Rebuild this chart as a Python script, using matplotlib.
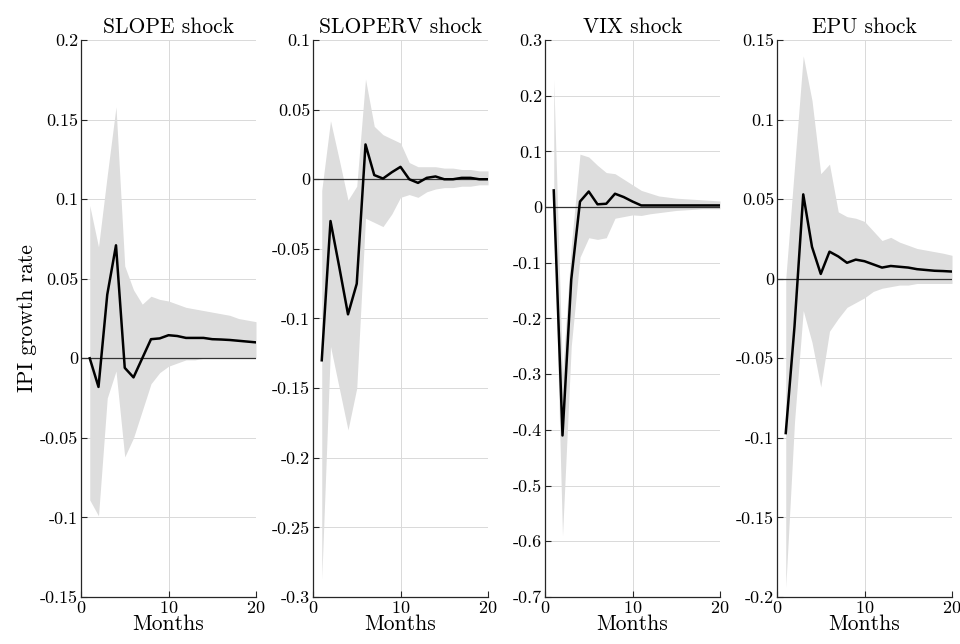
import matplotlib
matplotlib.use("Agg")
import matplotlib.pyplot as plt
from matplotlib.ticker import FuncFormatter

# ---------------------------------------------------------------------------
# Data: impulse responses of IPI growth (median + confidence band)
# ---------------------------------------------------------------------------

months = list(range(1, 21))

titles = ["SLOPE shock", "SLOPERV shock", "VIX shock", "EPU shock"]

slope_irf = [0.0, -0.018, 0.04, 0.071, -0.006, -0.012, 0.0, 0.012, 0.0125, 0.0145,
             0.014, 0.0128, 0.0128, 0.0128, 0.012, 0.0118, 0.0115, 0.011, 0.0105, 0.010]
slope_hi = [0.096, 0.07, 0.115, 0.158, 0.058, 0.043, 0.034, 0.039, 0.037, 0.036,
            0.034, 0.032, 0.031, 0.030, 0.029, 0.028, 0.027, 0.025, 0.024, 0.023]
slope_lo = [-0.089, -0.099, -0.025, -0.008, -0.062, -0.05, -0.033, -0.016, -0.009, -0.005,
            -0.003, -0.001, -0.001, 0.0, 0.0, 0.0, 0.0, 0.0, 0.0, 0.0]

sloperv_irf = [-0.13, -0.03, -0.063, -0.097, -0.075, 0.025, 0.003, 0.0005, 0.005, 0.0089,
               0.0, -0.0026, 0.001, 0.002, 0.0, 0.0, 0.001, 0.001, 0.0, 0.0]
sloperv_hi = [-0.008, 0.042, 0.014, -0.015, -0.005, 0.072, 0.038, 0.032, 0.029, 0.026,
              0.012, 0.009, 0.009, 0.009, 0.008, 0.008, 0.007, 0.007, 0.006, 0.006]
sloperv_lo = [-0.287, -0.12, -0.15, -0.18, -0.15, -0.028, -0.031, -0.034, -0.025, -0.013,
              -0.011, -0.013, -0.009, -0.007, -0.006, -0.006, -0.005, -0.005, -0.004, -0.004]

vix_irf = [0.03, -0.41, -0.13, 0.01, 0.028, 0.005, 0.006, 0.024, 0.018, 0.01,
           0.003, 0.003, 0.003, 0.003, 0.003, 0.003, 0.003, 0.003, 0.003, 0.003]
vix_hi = [0.23, -0.3, -0.07, 0.095, 0.09, 0.075, 0.062, 0.06, 0.05, 0.04,
          0.03, 0.025, 0.02, 0.018, 0.016, 0.015, 0.014, 0.013, 0.012, 0.011]
vix_lo = [0.0, -0.59, -0.25, -0.09, -0.055, -0.058, -0.055, -0.02, -0.017, -0.014,
          -0.015, -0.012, -0.01, -0.008, -0.006, -0.005, -0.004, -0.003, -0.003, -0.003]

epu_irf = [-0.097, -0.03, 0.053, 0.02, 0.003, 0.017, 0.014, 0.01, 0.012, 0.011,
           0.009, 0.007, 0.008, 0.0075, 0.007, 0.006, 0.0055, 0.005, 0.0048, 0.0045]
epu_hi = [0.0, 0.07, 0.14, 0.112, 0.066, 0.072, 0.042, 0.039, 0.038, 0.036,
          0.03, 0.024, 0.026, 0.023, 0.021, 0.019, 0.018, 0.017, 0.016, 0.0147]
epu_lo = [-0.194, -0.09, -0.02, -0.04, -0.068, -0.033, -0.025, -0.018, -0.015, -0.012,
          -0.008, -0.006, -0.005, -0.004, -0.004, -0.003, -0.003, -0.003, -0.003, -0.003]

irfs = [slope_irf, sloperv_irf, vix_irf, epu_irf]
highs = [slope_hi, sloperv_hi, vix_hi, epu_hi]
lows = [slope_lo, sloperv_lo, vix_lo, epu_lo]

ylims = [(-0.15, 0.2), (-0.3, 0.1), (-0.7, 0.3), (-0.2, 0.15)]
ysteps = [0.05, 0.05, 0.1, 0.05]

# ---------------------------------------------------------------------------
# Style
# ---------------------------------------------------------------------------

plt.rcParams["font.family"] = ["cmr10", "DejaVu Serif"]
plt.rcParams["axes.unicode_minus"] = False
plt.rcParams["axes.formatter.use_mathtext"] = True

W, H = 960, 644
fig = plt.figure(figsize=(W / 100, H / 100), dpi=100)

lefts = [81, 313, 545, 777]
top, bottom = 40, 597
width = 175

fmt = FuncFormatter(lambda v, p: "%g" % round(v, 4))

for i in range(4):
    ax = fig.add_axes([lefts[i] / W, 1 - bottom / H, width / W, (bottom - top) / H])
    ax.fill_between(months, lows[i], highs[i], color="#dddddd", lw=0, zorder=1)
    ax.axhline(0, color="0.2", lw=0.9, zorder=2)
    ax.plot(months, irfs[i], color="k", lw=1.8, zorder=3)

    lo, hi = ylims[i]
    n = int(round((hi - lo) / ysteps[i]))
    ax.set_yticks([lo + k * ysteps[i] for k in range(n + 1)])
    ax.set_ylim(lo, hi)
    ax.set_xlim(0, 20)
    ax.set_xticks([0, 10, 20])
    ax.yaxis.set_major_formatter(fmt)

    ax.grid(True, color="0.85", lw=0.7)
    ax.set_axisbelow(True)
    for s in ["top", "right"]:
        ax.spines[s].set_visible(False)
    for s in ["left", "bottom"]:
        ax.spines[s].set_color("0.15")
        ax.spines[s].set_linewidth(0.9)
    ax.tick_params(direction="in", length=4, width=0.8, labelsize=13, colors="0.15",
                   labelcolor="k", pad=2)

    ax.set_title(titles[i], fontsize=15.5, pad=5)
    ax.set_xlabel("Months", fontsize=15.5, labelpad=-1)
    if i == 0:
        ax.set_ylabel("IPI growth rate", fontsize=15.5, labelpad=2)

fig.savefig("out.png", dpi=100)
